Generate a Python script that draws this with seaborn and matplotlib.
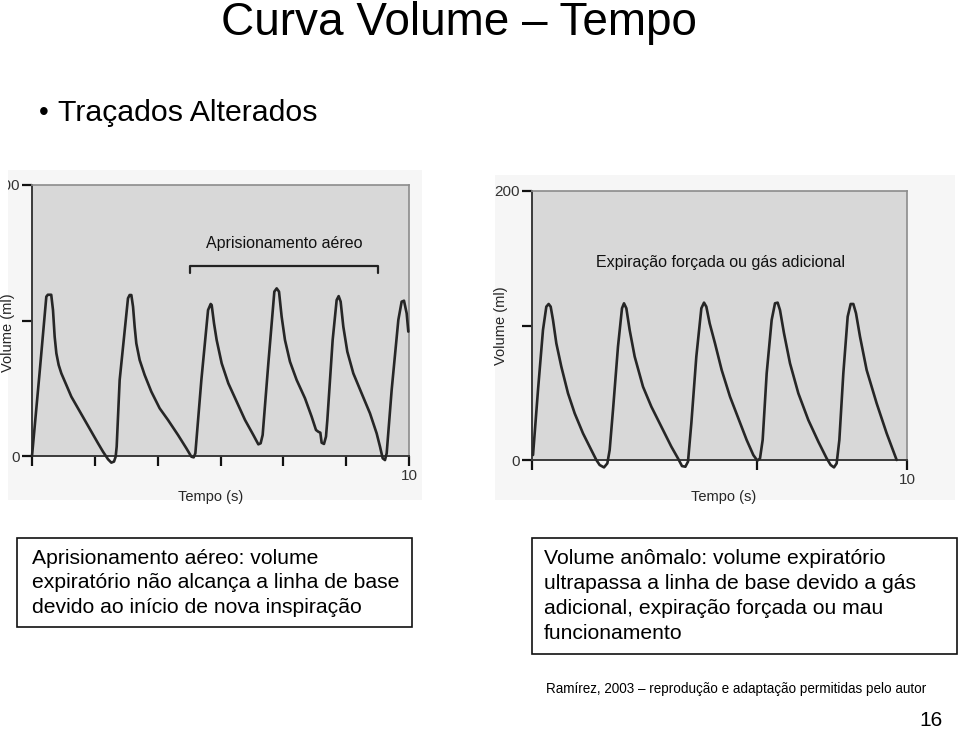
import matplotlib
matplotlib.use("Agg")
import matplotlib.pyplot as plt
import seaborn as sns
import pandas as pd
from matplotlib.patches import Rectangle
from matplotlib.transforms import Bbox, TransformedBbox

# ---------------- data ----------------
# Left panel: air trapping (time in s, volume in ml)
left_time = [0.00, 0.20, 0.38, 0.42, 0.51, 0.557, 0.601, 0.646, 0.707, 0.778, 0.911, 1.043, 1.220,
             1.397, 1.574, 1.751, 1.883, 2.016, 2.104, 2.175, 2.219, 2.246,
             2.325, 2.546, 2.59, 2.635, 2.68, 2.723, 2.767, 2.856, 2.988, 3.165, 3.386, 3.607,
             3.873, 4.094, 4.227, 4.289, 4.333,
             4.492, 4.67, 4.74, 4.766, 4.828, 4.898, 5.031, 5.208, 5.429, 5.650, 5.871, 6.004,
             6.065, 6.118,
             6.269, 6.428, 6.49, 6.552, 6.622, 6.71, 6.843, 7.02, 7.241, 7.418, 7.533, 7.595,
             7.648, 7.683, 7.745, 7.798, 7.834,
             7.975, 8.081, 8.134, 8.187, 8.258, 8.364, 8.523, 8.744, 8.965, 9.142, 9.231, 9.302,
             9.363, 9.408,
             9.54, 9.717, 9.805, 9.867, 9.938, 9.982]
left_volume = [0.0, 61.0, 117.6, 119.0, 119.0, 107.7, 88.1, 75.8, 67.2, 61.0, 52.4, 43.8, 35.2,
               26.6, 18.0, 9.4, 3.2, -2.4, -4.9, -4.1, -0.5, 6.9,
               56.0, 116.4, 118.8, 118.8, 110.2, 95.4, 83.1, 70.8, 59.8, 47.5, 35.2, 26.6,
               15.5, 5.7, -0.5, -1.0, 2.0,
               56.0, 107.7, 112.2, 111.4, 97.9, 85.6, 68.4, 53.6, 40.1, 26.6, 15.5, 8.6,
               9.4, 15.5,
               68.4, 121.3, 123.7, 121.3, 102.8, 85.6, 69.6, 56.1, 42.6, 29.0, 19.2, 17.9,
               17.2, 9.8, 8.9, 14.3, 26.6,
               85.6, 115.1, 118.0, 113.9, 95.4, 77.0, 61.0, 46.2, 31.5, 16.7, 6.9, -1.7,
               -3.0, 2.0,
               48.7, 100.4, 113.9, 114.6, 105.3, 91.8]

# Right panel: forced expiration / additional gas
right_time = [0.027, 0.16, 0.293, 0.382, 0.444, 0.498, 0.56, 0.649, 0.782, 0.96, 1.138, 1.36,
              1.582, 1.716, 1.804, 1.92, 2.009, 2.071,
              2.16, 2.293, 2.4, 2.453, 2.516, 2.604, 2.738, 2.96, 3.182, 3.449, 3.716, 3.893,
              4.0, 4.09, 4.16,
              4.249, 4.382, 4.516, 4.587, 4.649, 4.738, 4.88, 5.058, 5.28, 5.502, 5.724, 5.902,
              6.009, 6.08, 6.151,
              6.258, 6.391, 6.48, 6.551, 6.613, 6.72, 6.88, 7.102, 7.369, 7.636, 7.858, 7.964,
              8.053, 8.124, 8.196,
              8.302, 8.418, 8.498, 8.569, 8.64, 8.747, 8.924, 9.191, 9.458, 9.724]
right_volume = [3.7, 52.0, 96.7, 114.0, 116.0, 114.0, 104.1, 86.7, 69.4, 49.6, 34.7, 19.8,
                7.4, 0.0, -3.7, -5.5, -2.5, 7.4,
                37.2, 84.3, 112.8, 116.5, 112.8, 96.7, 76.9, 54.5, 39.7, 24.8, 9.9, 1.2,
                -4.5, -5.0, -1.2,
                27.3, 76.9, 112.8, 117.0, 114.0, 101.6, 86.7, 66.9, 47.1, 31.0, 14.9, 3.7,
                -0.5, 1.2, 14.9,
                64.4, 104.1, 116.5, 117.0, 111.5, 94.2, 71.9, 49.6, 29.7, 13.6, 1.2, -3.7,
                -5.5, -2.5, 14.9,
                64.4, 106.6, 116.0, 116.0, 109.1, 91.7, 66.9, 42.1, 19.8, 0.0]

left_xticks = [0, 10/6, 20/6, 30/6, 40/6, 50/6, 10]
left_xticklabels = ["", "", "", "", "", "", "10"]
right_xticks = [0, 6, 10]
right_xticklabels = ["", "", "10"]
yticks = [0, 100, 200]
yticklabels = ["0", "", "200"]

title = "Curva Volume \u2013 Tempo"
bullet_text = "Traçados Alterados"
left_note = "Aprisionamento aéreo"
right_note = "Expiração forçada ou gás adicional"
left_box = "Aprisionamento aéreo: volume\nexpiratório não alcança a linha de base\ndevido ao início de nova inspiração"
right_box = ("Volume anômalo: volume expiratório\nultrapassa a linha de base devido a gás\n"
             "adicional, expiração forçada ou mau\nfuncionamento")
citation = "Ramírez, 2003 \u2013 reprodução e adaptação permitidas pelo autor"
page = "16"

# ---------------- figure ----------------
sns.set_theme(style="white")
plt.rcParams["font.family"] = ["Liberation Sans", "DejaVu Sans"]

W, H = 960, 731
fig = plt.figure(figsize=(W / 100, H / 100), dpi=100)
fig.patch.set_facecolor("white")

def fx(px):
    return px / W

def fy(py):
    return 1 - py / H

# faint image backgrounds (behind the axes)
fig.patches.append(Rectangle((fx(8), fy(500)), fx(414), 330 / H, transform=fig.transFigure,
                             facecolor="#f6f6f6", edgecolor="none", zorder=-5))
fig.patches.append(Rectangle((fx(495), fy(500)), fx(460), 325 / H, transform=fig.transFigure,
                             facecolor="#f6f6f6", edgecolor="none", zorder=-5))

axL = fig.add_axes([fx(32), fy(456), fx(377), 271 / H])
axR = fig.add_axes([fx(532), fy(460), fx(375), 269 / H])

dfL = pd.DataFrame({"Tempo": left_time, "Volume": left_volume})
dfR = pd.DataFrame({"Tempo": right_time, "Volume": right_volume})

line_kw = dict(color="#262626", linewidth=1.9, sort=False, estimator=None,
               clip_on=False, zorder=5)
sns.lineplot(data=dfL, x="Tempo", y="Volume", ax=axL, **line_kw)
sns.lineplot(data=dfR, x="Tempo", y="Volume", ax=axR, **line_kw)

for ax, xt, xtl in [(axL, left_xticks, left_xticklabels), (axR, right_xticks, right_xticklabels)]:
    ax.set_facecolor("#d8d8d8")
    ax.set_xlim(0, 10)
    ax.set_ylim(0, 200)
    ax.set_xticks(xt)
    ax.set_xticklabels(xtl)
    ax.set_yticks(yticks)
    ax.set_yticklabels(yticklabels)
    ax.tick_params(axis="both", direction="out", length=7, width=1.6, color="#111111",
                   labelsize=11, labelcolor="#333333", pad=2, left=True, bottom=True)
    ax.set_xlabel("")
    ax.set_ylabel("")
    for s in ["top", "right"]:
        ax.spines[s].set_color("#8c8c8c")
        ax.spines[s].set_linewidth(1.2)
    for s in ["left", "bottom"]:
        ax.spines[s].set_color("#3a3a3a")
        ax.spines[s].set_linewidth(1.4)

# clip left-panel y tick labels like the cropped source image
clipbox = TransformedBbox(Bbox([[fx(8), 0], [1, 1]]), fig.transFigure)
for lbl in axL.get_yticklabels():
    lbl.set_clip_on(True)
    lbl.set_clip_box(clipbox)

# axis labels
fig.text(fx(211), fy(497), "Tempo (s)", ha="center", va="center", fontsize=10.5)
fig.text(fx(724), fy(497), "Tempo (s)", ha="center", va="center", fontsize=10.5)
fig.text(fx(8), fy(333), "Volume (ml)", ha="center", va="center", rotation=90, fontsize=10.5)
fig.text(fx(501), fy(326), "Volume (ml)", ha="center", va="center", rotation=90, fontsize=10.5)

# annotations inside the plots
axL.text(6.68, 157, left_note, ha="center", va="center", fontsize=11.5, color="#111111")
axL.plot([4.19, 4.19, 9.18, 9.18], [135, 140, 140, 135], color="#222222", linewidth=1.6)
axR.text(5.04, 147, right_note, ha="center", va="center", fontsize=11.5, color="#111111")

# title & bullet
fig.text(fx(459), fy(35), title, ha="center", va="baseline", fontsize=33, color="black")
fig.text(fx(44), fy(113), "\u2022", ha="center", va="center", fontsize=20, color="black")
fig.text(fx(58), fy(113), bullet_text, ha="left", va="center", fontsize=21.8, color="black")

# boxes
fig.patches.append(Rectangle((fx(17), fy(627)), fx(395), 89 / H, transform=fig.transFigure,
                             facecolor="white", edgecolor="#111111", linewidth=1.2, zorder=1))
fig.patches.append(Rectangle((fx(532), fy(654)), fx(425), 116 / H, transform=fig.transFigure,
                             facecolor="white", edgecolor="#111111", linewidth=1.2, zorder=1))
fig.text(fx(32), fy(583), left_box, ha="left", va="center", fontsize=15.2,
         linespacing=1.39, color="black", zorder=2)
fig.text(fx(544), fy(596), right_box, ha="left", va="center", fontsize=15.2,
         linespacing=1.39, color="black", zorder=2)

fig.text(fx(736), fy(689), citation, ha="center", va="center", fontsize=9.75, color="black")
fig.text(fx(931), fy(721), page, ha="center", va="center", fontsize=15, color="black")

fig.savefig("out.png", dpi=100)
